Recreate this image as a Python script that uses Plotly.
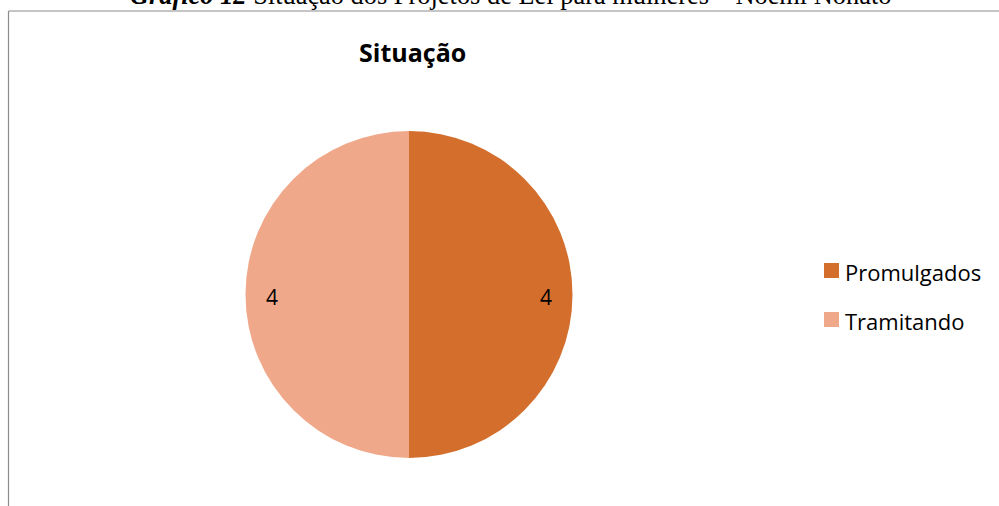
import math
import plotly.graph_objects as go

# ---- data ----
categories = ["Promulgados", "Tramitando"]
values = [4, 4]
colors = ["#D36E2C", "#F0A88B"]
chart_title = "Situação"
caption_bold = "Gráfico 12"
caption_rest = " Situação dos Projetos de Lei para mulheres – Noemi Nonato"

W, H = 999, 506
cx, cy, r = 409, 294.5, 163.5
SANS = "Open Sans, Lato, sans-serif"

fig = go.Figure()
fig.add_trace(go.Pie(
    labels=categories,
    values=values,
    marker=dict(colors=colors, line=dict(width=0)),
    sort=False,
    direction="clockwise",
    rotation=0,
    textinfo="none",
    hoverinfo="label+value",
    showlegend=False,
    domain=dict(x=[(cx - r) / W, (cx + r) / W], y=[1 - (cy + r) / H, 1 - (cy - r) / H]),
))

annotations = []
shapes = []
# data labels near outer edge, placed along each slice's bisector
total = sum(values)
cum = 0
for v in values:
    mid = (cum + v / 2) / total * 2 * math.pi  # clockwise from 12 o'clock
    cum += v
    lr = 0.84 * r
    px = cx + lr * math.sin(mid)
    py = cy + 2.5 - lr * math.cos(mid)
    annotations.append(dict(
        x=px / W, y=1 - py / H, xref="paper", yref="paper",
        text=str(v), showarrow=False, xanchor="center", yanchor="middle",
        font=dict(family=SANS, size=21, color="#000000"),
    ))

# legend
for i, (lab, col) in enumerate(zip(categories, colors)):
    ly = 270.5 + i * 49
    shapes.append(dict(type="rect", xref="paper", yref="paper",
                       x0=824 / W, x1=839 / W, y0=1 - (ly + 7.5) / H, y1=1 - (ly - 7.5) / H,
                       fillcolor=col, line=dict(width=0)))
    annotations.append(dict(
        x=843 / W, y=1 - (ly + 1) / H, xref="paper", yref="paper",
        text=lab, showarrow=False, xanchor="left", yanchor="middle",
        font=dict(family=SANS, size=22, color="#000000"),
    ))

# chart title
annotations.append(dict(
    x=412 / W, y=1 - 52 / H, xref="paper", yref="paper",
    text="<b>" + chart_title + "</b>", showarrow=False, xanchor="center", yanchor="middle",
    font=dict(family=SANS, size=25, color="#000000"),
))

# caption (cut at top, as in the source image)
annotations.append(dict(
    x=510.5 / W, y=1 - 12.5 / H, xref="paper", yref="paper",
    text="<b><i>" + caption_bold + "</i></b>" + caption_rest, showarrow=False,
    xanchor="center", yanchor="bottom",
    font=dict(family="Liberation Serif, Times New Roman, serif", size=26.4, color="#000000"),
))

# frame lines
shapes.append(dict(type="line", xref="paper", yref="paper",
                   x0=8.5 / W, x1=1.01, y0=1 - 11 / H, y1=1 - 11 / H,
                   line=dict(color="#8c8c8c", width=1.2)))
shapes.append(dict(type="line", xref="paper", yref="paper",
                   x0=8.5 / W, x1=8.5 / W, y0=1 - 11 / H, y1=-0.01,
                   line=dict(color="#8c8c8c", width=1.2)))

fig.update_layout(
    width=W, height=H,
    margin=dict(l=0, r=0, t=0, b=0),
    paper_bgcolor="white", plot_bgcolor="white",
    annotations=annotations, shapes=shapes,
    showlegend=False,
)

fig.write_html(
    "out.html",
    config={"displayModeBar": False},
    post_script="document.body.style.margin='0';document.body.style.overflow='hidden';",
)
